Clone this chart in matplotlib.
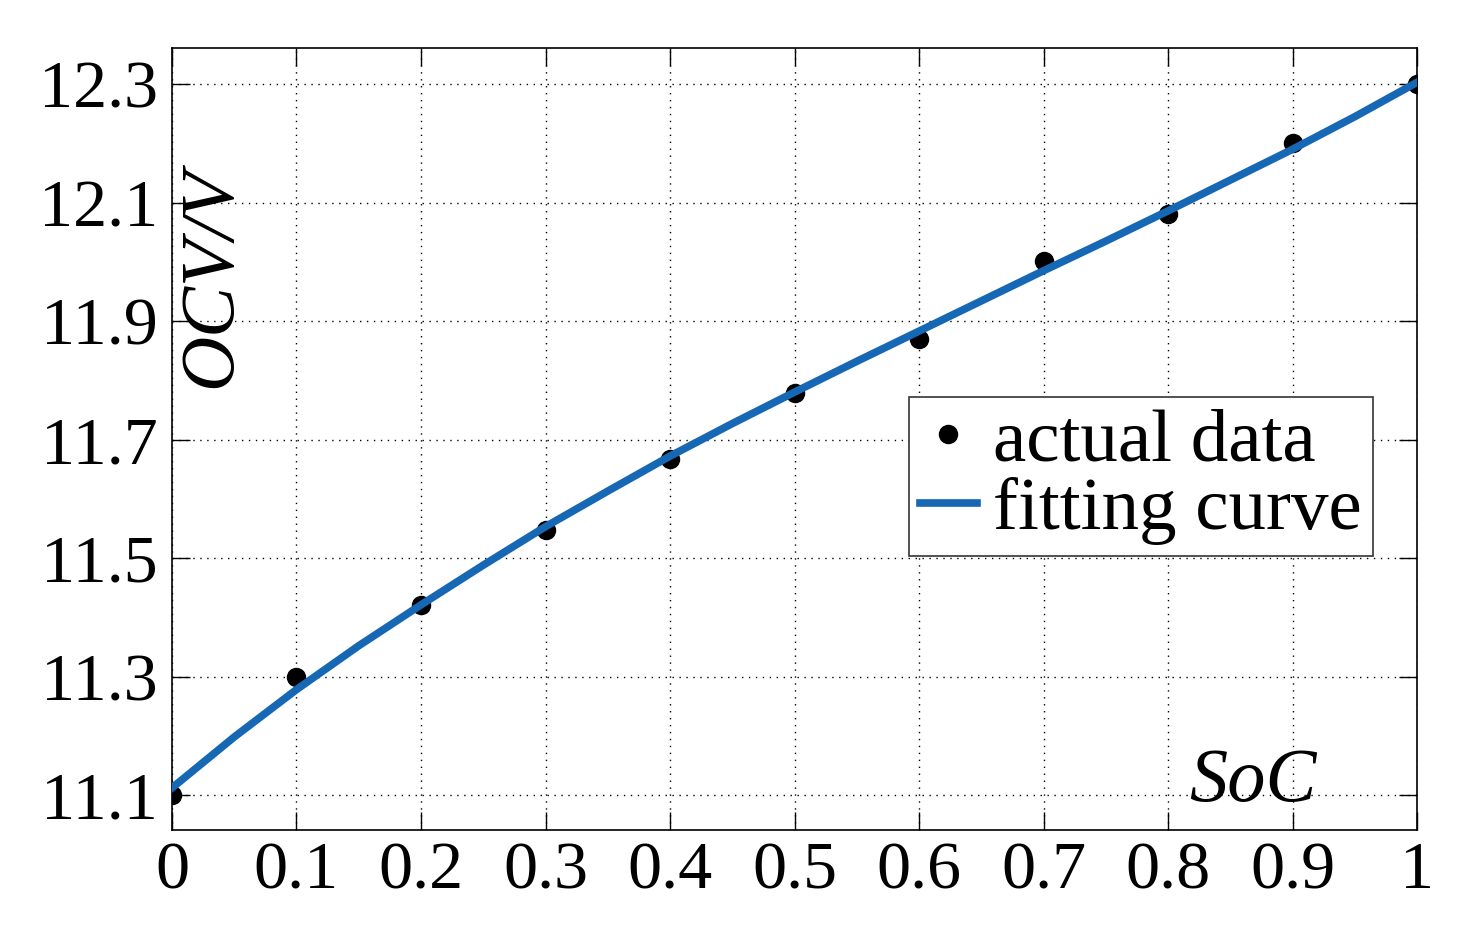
import numpy as np
import matplotlib
matplotlib.use('Agg')
import matplotlib.pyplot as plt

plt.rcParams['font.family'] = ['Liberation Serif', 'DejaVu Serif']

# measured points
soc = [0.0, 0.1, 0.2, 0.3, 0.4, 0.5, 0.6, 0.7, 0.8, 0.9, 1.0]
ocv = [11.10, 11.30, 11.42, 11.548, 11.668, 11.779, 11.87, 12.002, 12.081, 12.20, 12.30]

# fitted curve
fit_soc = [0.0, 0.05, 0.1, 0.15, 0.2, 0.25, 0.3, 0.35, 0.4, 0.45, 0.5,
           0.55, 0.6, 0.65, 0.7, 0.75, 0.8, 0.85, 0.9, 0.95, 1.0]
fit_ocv = [11.112, 11.198, 11.278, 11.352, 11.421, 11.488, 11.553, 11.613, 11.672, 11.727, 11.78,
           11.832, 11.883, 11.934, 11.985, 12.035, 12.086, 12.138, 12.19, 12.245, 12.303]

x_ticks = [0, 0.1, 0.2, 0.3, 0.4, 0.5, 0.6, 0.7, 0.8, 0.9, 1]
x_labels = ['0', '0.1', '0.2', '0.3', '0.4', '0.5', '0.6', '0.7', '0.8', '0.9', '1']
y_ticks = [11.1, 11.3, 11.5, 11.7, 11.9, 12.1, 12.3]

tick_fs = 49
fs = 54
blue = '#1667b4'

fig = plt.figure(figsize=(14.7, 9.31), dpi=100)
ax = fig.add_axes([0.117, 0.1085, 0.847, 0.840])

ax.plot(soc, ocv, 'o', color='black', ms=13, label='actual data', zorder=3)
ax.plot(fit_soc, fit_ocv, '-', color=blue, lw=5.5, label='fitting curve', zorder=4)

ax.set_xlim(0, 1)
ax.set_ylim(11.041, 12.361)
ax.set_xticks(x_ticks)
ax.set_xticklabels(x_labels)
ax.set_yticks(y_ticks)
ax.set_yticklabels(['%.1f' % v for v in y_ticks])
ax.tick_params(direction='in', length=13, width=1, labelsize=tick_fs,
               top=True, right=True, pad=10)
ax.tick_params(axis='x', pad=8)
ax.grid(True, color='black', linestyle=(0, (1, 4)), linewidth=1)
for s in ax.spines.values():
    s.set_linewidth(1.2)

ax.text(0.032, 0.706, 'OCV/V', transform=ax.transAxes, rotation=90,
        fontsize=55, style='italic', ha='center', va='center')
ax.text(0.868, 0.037, 'SoC', transform=ax.transAxes,
        fontsize=55, style='italic', ha='center', va='baseline')

leg = ax.legend(loc='upper left', bbox_to_anchor=(0.592, 0.554), borderaxespad=0,
                fontsize=fs, fancybox=False, edgecolor='#333333', framealpha=1,
                handlelength=0.75, handletextpad=0.22, labelspacing=0.0,
                borderpad=0.15, markerscale=1.0)
leg.get_frame().set_linewidth(1.2)

fig.savefig('out.png', dpi=100)
